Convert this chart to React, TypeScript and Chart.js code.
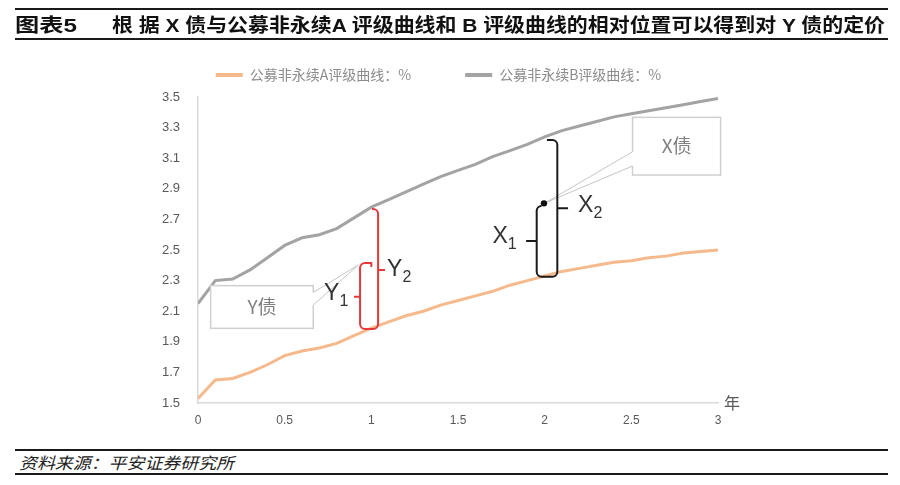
import React, { useEffect, useRef } from 'react';
import { Chart, registerables } from 'chart.js';

Chart.register(...registerables);

// ---- data ----
const tenors = [0, 0.1, 0.2, 0.3, 0.4, 0.5, 0.6, 0.7, 0.8, 0.9, 1.0, 1.1, 1.2, 1.3, 1.4, 1.5, 1.6, 1.7, 1.8, 1.9, 2.0, 2.1, 2.2, 2.3, 2.4, 2.5, 2.6, 2.7, 2.8, 2.9, 3.0];
const curveA = [1.53, 1.65, 1.66, 1.70, 1.75, 1.81, 1.84, 1.86, 1.89, 1.94, 1.99, 2.03, 2.07, 2.10, 2.14, 2.17, 2.20, 2.23, 2.27, 2.30, 2.33, 2.36, 2.38, 2.40, 2.42, 2.43, 2.45, 2.46, 2.48, 2.49, 2.50];
const curveB = [2.15, 2.30, 2.31, 2.37, 2.45, 2.53, 2.58, 2.60, 2.64, 2.71, 2.78, 2.83, 2.88, 2.93, 2.98, 3.02, 3.06, 3.11, 3.15, 3.19, 3.24, 3.28, 3.31, 3.34, 3.37, 3.39, 3.41, 3.43, 3.45, 3.47, 3.49];
const seriesNames = ['公募非永续A评级曲线：%', '公募非永续B评级曲线：%'];
const xAxisUnit = '年';
const titleLabel = '图表5';
const titleText = '根 据 X 债与公募非永续A 评级曲线和 B 评级曲线的相对位置可以得到对 Y 债的定价';
const sourceText = '资料来源：平安证券研究所';

// ---- annotation geometry (data units) ----
const bracketDefs = [
  { color: '#e5383b', x: 0.935, top: 2.415, bottom: 1.984, topTo: 1.0, bottomTo: 0.987, mid: 2.195, tickTo: 0.9, tail: true },
  { color: '#e5383b', x: 1.039, top: 2.768, bottom: 1.984, topTo: 1.004, bottomTo: 0.987, mid: 2.369, tickTo: 1.079, tail: false },
  { color: '#1a1a1a', x: 1.954, top: 2.788, bottom: 2.325, topTo: 1.982, bottomTo: 2.013, mid: 2.559, tickTo: 1.893, tail: false },
  { color: '#1a1a1a', x: 2.073, top: 3.219, bottom: 2.325, topTo: 2.013, bottomTo: 2.013, mid: 2.773, tickTo: 2.135, tail: false },
];
const labelDefs = [
  { text: 'Y', sub: '1', x: 0.867, y: 2.217, align: 'right' },
  { text: 'Y', sub: '2', x: 1.091, y: 2.369, align: 'left' },
  { text: 'X', sub: '1', x: 1.839, y: 2.587, align: 'right' },
  { text: 'X', sub: '2', x: 2.193, y: 2.79, align: 'left' },
];
const calloutDefs = [
  { text: 'Y债', x0: 0.073, x1: 0.665, y0: 2.267, y1: 1.988, edge: 'right', b0: 2.223, b1: 2.14, tipX: 0.925, tipY: 2.402 },
  { text: 'X债', x0: 2.507, x1: 3.015, y0: 3.367, y1: 2.99, edge: 'left', b0: 3.142, b1: 3.049, tipX: 2.002, tipY: 2.807 },
];
const dotPoint = { x: 1.996, y: 2.805 };

const CJK = '"Noto Sans CJK SC", "Noto Sans", sans-serif';
const LATIN = '"Liberation Sans", Arial, "Noto Sans CJK SC", sans-serif';

const annotationPlugin = {
  id: 'bondAnnotations',
  afterDraw(chart: any) {
    const { ctx } = chart;
    const xs = chart.scales.x;
    const ys = chart.scales.y;
    const px = (v: number) => xs.getPixelForValue(v);
    const py = (v: number) => ys.getPixelForValue(v);
    ctx.save();

    // unit label
    ctx.fillStyle = '#595959';
    ctx.font = `16px ${CJK}`;
    ctx.textAlign = 'center';
    ctx.textBaseline = 'middle';
    ctx.fillText(xAxisUnit, xs.right + 14, ys.bottom);

    // callouts
    calloutDefs.forEach((c) => {
      const l = px(c.x0), r = px(c.x1), t = py(c.y0), b = py(c.y1);
      ctx.fillStyle = '#ffffff';
      ctx.strokeStyle = '#cfcfcf';
      ctx.lineWidth = 1.5;
      ctx.fillRect(l, t, r - l, b - t);
      ctx.strokeRect(l, t, r - l, b - t);
      const ex = c.edge === 'right' ? r : l;
      const inner = c.edge === 'right' ? -2 : 2;
      const b0 = py(c.b0), b1 = py(c.b1), tx = px(c.tipX), ty = py(c.tipY);
      ctx.beginPath();
      ctx.moveTo(ex + inner, b0);
      ctx.lineTo(ex, b0);
      ctx.lineTo(tx, ty);
      ctx.lineTo(ex, b1);
      ctx.lineTo(ex + inner, b1);
      ctx.closePath();
      ctx.fill();
      ctx.beginPath();
      ctx.moveTo(ex, b0);
      ctx.lineTo(tx, ty);
      ctx.lineTo(ex, b1);
      ctx.lineWidth = 1;
      ctx.strokeStyle = '#c4c4c4';
      ctx.stroke();
      ctx.fillStyle = '#7f7f7f';
      ctx.font = `19px ${CJK}`;
      ctx.textAlign = 'center';
      ctx.textBaseline = 'middle';
      ctx.fillText(c.text, (l + r) / 2, (t + b) / 2);
    });

    // brackets
    bracketDefs.forEach((d) => {
      const X = px(d.x), T = py(d.top), B = py(d.bottom);
      const tt = px(d.topTo), bt = px(d.bottomTo), M = py(d.mid), tk = px(d.tickTo);
      ctx.strokeStyle = d.color;
      ctx.lineWidth = 2;
      ctx.lineJoin = 'round';
      ctx.lineCap = 'butt';
      ctx.beginPath();
      if (d.tail) {
        ctx.moveTo(tt, T + 4);
        ctx.lineTo(tt, T);
      } else {
        ctx.moveTo(tt, T);
      }
      ctx.arcTo(X, T, X, B, Math.min(5, Math.abs(tt - X)));
      ctx.arcTo(X, B, bt, B, Math.min(5, Math.abs(bt - X)));
      ctx.lineTo(bt, B);
      ctx.moveTo(X, M);
      ctx.lineTo(tk, M);
      ctx.stroke();
    });

    // dot
    ctx.fillStyle = '#111';
    ctx.beginPath();
    ctx.arc(px(dotPoint.x), py(dotPoint.y), 3.2, 0, Math.PI * 2);
    ctx.fill();

    // labels with subscripts
    ctx.fillStyle = '#333333';
    ctx.textAlign = 'left';
    ctx.textBaseline = 'middle';
    labelDefs.forEach((lb) => {
      const mainFont = `23px ${LATIN}`;
      const subFont = `16px ${LATIN}`;
      ctx.font = mainFont;
      const w1 = ctx.measureText(lb.text).width;
      ctx.font = subFont;
      const w2 = ctx.measureText(lb.sub).width;
      const X = px(lb.x), Y = py(lb.y);
      const sx = lb.align === 'right' ? X - (w1 + w2) : X;
      ctx.font = mainFont;
      ctx.fillText(lb.text, sx, Y);
      ctx.font = subFont;
      ctx.fillText(lb.sub, sx + w1, Y + 8);
    });

    ctx.restore();
  },
};

export default function App() {
  const canvasRef = useRef<HTMLCanvasElement | null>(null);
  const labelRef = useRef<HTMLSpanElement | null>(null);
  const titleRef = useRef<HTMLSpanElement | null>(null);
  const sourceRef = useRef<HTMLSpanElement | null>(null);

  useEffect(() => {
    const fit = () => {
      const pairs: [HTMLSpanElement | null, number][] = [
        [labelRef.current, 62],
        [titleRef.current, 773],
        [sourceRef.current, 215],
      ];
      pairs.forEach(([el, target]) => {
        if (!el) return;
        el.style.transform = 'none';
        const w = el.getBoundingClientRect().width;
        if (w > 0) el.style.transform = `scaleX(${target / w})`;
      });
    };
    fit();
    if ((document as any).fonts && (document as any).fonts.ready) {
      (document as any).fonts.ready.then(fit);
    }

    const canvas = canvasRef.current;
    if (!canvas) return;
    const orange = '#f5b98b';
    const gray = '#a3a3a3';
    const chart = new Chart(canvas, {
      type: 'line',
      data: {
        datasets: [
          {
            label: seriesNames[0],
            data: tenors.map((t, i) => ({ x: t, y: curveA[i] })),
            borderColor: orange,
            backgroundColor: orange,
            borderWidth: 3,
            pointRadius: 0,
            tension: 0,
          },
          {
            label: seriesNames[1],
            data: tenors.map((t, i) => ({ x: t, y: curveB[i] })),
            borderColor: gray,
            backgroundColor: gray,
            borderWidth: 3,
            pointRadius: 0,
            tension: 0,
          },
        ],
      },
      options: {
        animation: false,
        responsive: false,
        maintainAspectRatio: false,
        layout: { padding: { left: 159, right: 182, top: 49, bottom: 7 } },
        plugins: {
          tooltip: { enabled: false },
          title: {
            display: true,
            text: '',
            position: 'top',
            weight: 500,
            padding: 0,
            font: { size: 5, lineHeight: 1 },
          },
          legend: {
            display: true,
            position: 'top',
            labels: {
              boxWidth: 27,
              boxHeight: 4,
              padding: 19,
              color: '#8c8c8c',
              font: { family: CJK, size: 14 },
              generateLabels: (ch: any) => {
                const items = (Chart as any).defaults.plugins.legend.labels.generateLabels(ch);
                items.forEach((it: any) => { it.lineWidth = 0; });
                if (items[0]) items[0].text = items[0].text + '\u3000\u3000\u2002';
                return items;
              },
            },
          },
        },
        scales: {
          x: {
            type: 'linear',
            min: 0,
            max: 3,
            grid: { display: false },
            border: { display: true, color: '#d9d9d9', width: 1.5 },
            ticks: {
              stepSize: 0.5,
              padding: 2,
              color: '#595959',
              font: { family: LATIN, size: 12 },
              maxRotation: 0,
              callback: (v: any) => String(Number(Number(v).toFixed(1))),
            },
            afterFit: (s: any) => { s.height = 30; },
          },
          y: {
            type: 'linear',
            min: 1.5,
            max: 3.5,
            grid: { display: false },
            border: { display: true, color: '#d9d9d9', width: 1.5 },
            ticks: {
              stepSize: 0.2,
              padding: 10,
              color: '#595959',
              font: { family: LATIN, size: 13 },
              callback: (v: any) => Number(v).toFixed(1),
            },
            afterFit: (s: any) => { s.width = 39; },
          },
        },
      },
      plugins: [annotationPlugin],
    } as any);
    return () => chart.destroy();
  }, []);

  return (
    <div style={{ position: 'absolute', left: 0, top: 0, width: 900, height: 485, background: '#fff', overflow: 'hidden' }}>
      <canvas ref={canvasRef} width={900} height={440} style={{ position: 'absolute', left: 0, top: 0, width: 900, height: 440 }} />
      <div style={{ position: 'absolute', left: 15, top: 8, width: 873, height: 28, borderTop: '2.5px solid #1a1a1a', borderBottom: '2.5px solid #1a1a1a' }}>
        <span ref={labelRef} style={{ position: 'absolute', left: 0, top: 3, fontFamily: LATIN, fontWeight: 700, fontSize: 19, lineHeight: '26px', color: '#111', whiteSpace: 'nowrap', transformOrigin: 'left center' }}>{titleLabel}</span>
        <span ref={titleRef} style={{ position: 'absolute', left: 97, top: 3, fontFamily: LATIN, fontWeight: 700, fontSize: 19, lineHeight: '26px', color: '#111', whiteSpace: 'nowrap', transformOrigin: 'left center' }}>{titleText}</span>
      </div>
      <div style={{ position: 'absolute', left: 15, top: 449, width: 873, height: 22, borderTop: '2px solid #1a1a1a', borderBottom: '2.5px solid #1a1a1a' }}>
        <span ref={sourceRef} style={{ position: 'absolute', left: 4, top: 0, fontFamily: CJK, fontStyle: 'italic', fontSize: 16, lineHeight: '22px', color: '#222', whiteSpace: 'nowrap', transformOrigin: 'left center' }}>{sourceText}</span>
      </div>
    </div>
  );
}
